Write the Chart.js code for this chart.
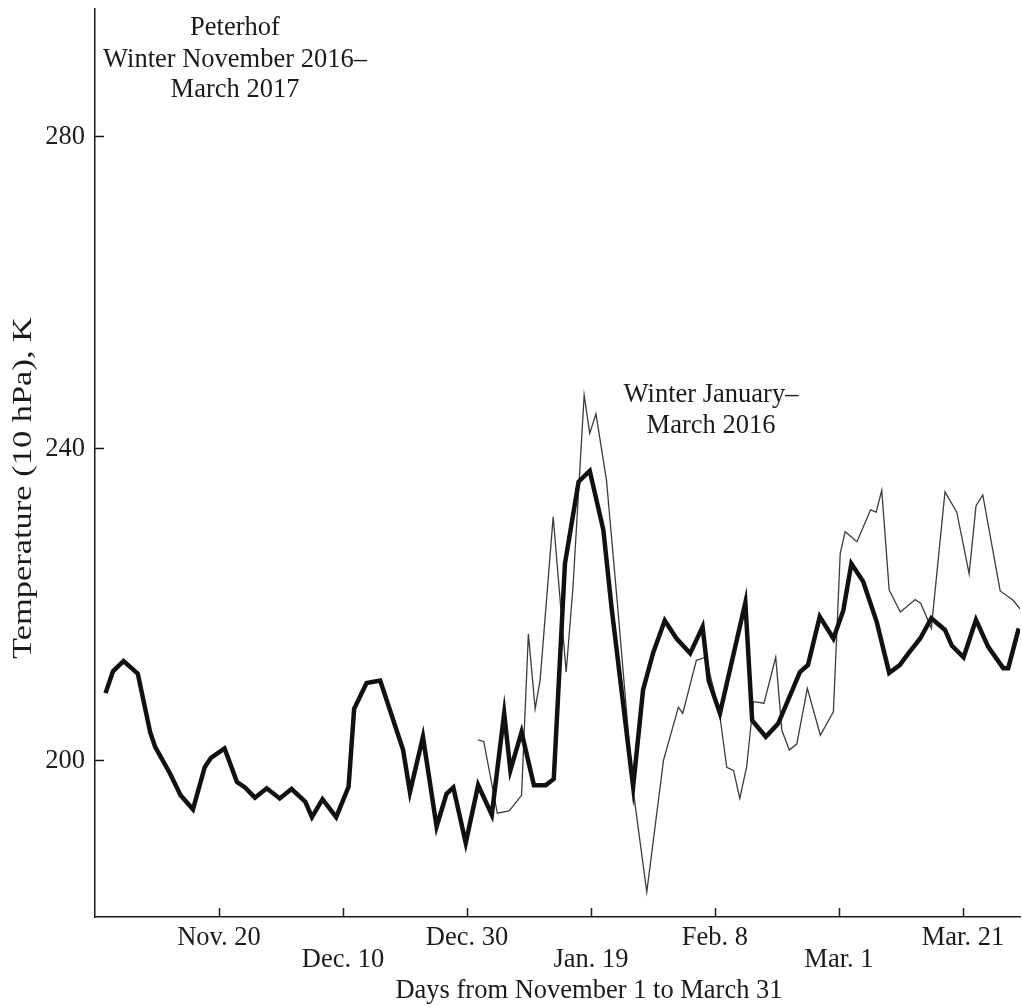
<!DOCTYPE html>
<html>
<head>
<meta charset="utf-8">
<title>Peterhof 10 hPa temperature</title>
<script src="https://cdn.jsdelivr.net/npm/chart.js@4.4.1/dist/chart.umd.min.js"></script>
<style>
  html, body { margin: 0; padding: 0; background: #fff; }
  #wrap { width: 1022px; height: 1007px; }
</style>
</head>
<body>
<div id="wrap"><canvas id="temp-chart" width="1022" height="1007"></canvas></div>
<script>
// day number counted from November 1 (x) and temperature in K (y)
var days2017 = [1.7, 2.9, 4.6, 6.9, 8.9, 9.7, 12.1, 13.8, 15.8, 17.7, 18.7, 20.9, 22.9, 24.2,
  25.8, 27.7, 29.8, 31.7, 33.9, 35.0, 36.7, 38.9, 40.9, 41.8, 43.8, 46.0, 49.7, 50.8, 52.9,
  55.1, 56.7, 57.8, 59.8, 61.8, 64.0, 66.0, 67.0, 68.8, 70.8, 72.7, 74.0, 75.8, 78.0, 79.8,
  82.0, 83.3, 86.8, 88.4, 90.0, 91.9, 93.8, 96.0, 98.0, 99.0, 100.8, 104.9, 106.0, 108.2,
  110.2, 113.7, 115.0, 116.9, 119.1, 120.7, 122.0, 123.9, 126.1, 128.1, 129.8, 131.2, 133.1,
  134.9, 137.1, 138.2, 140.1, 142.1, 144.1, 146.5, 147.3, 149.0];
var temp2017 = [208.6, 211.4, 212.7, 211.1, 203.6, 201.7, 198.3, 195.5, 193.7, 199.1, 200.3, 201.5, 197.2, 196.5,
  195.2, 196.4, 195.1, 196.3, 194.7, 192.7, 195.0, 192.7, 196.6, 206.6, 209.9, 210.2, 201.3, 195.9, 203.0,
  191.5, 195.7, 196.5, 189.4, 196.8, 193.0, 206.0, 198.7, 203.6, 196.8, 196.8, 197.6, 225.2, 235.7, 237.1,
  229.5, 219.7, 196.6, 209.0, 213.7, 217.9, 215.6, 213.7, 217.1, 210.2, 206.0, 220.2, 205.1, 203.0,
  204.7, 211.3, 212.2, 218.4, 215.6, 219.2, 225.2, 222.9, 217.7, 211.2, 212.2, 213.7, 215.6,
  218.2, 216.7, 214.7, 213.2, 218.0, 214.5, 211.8, 211.8, 216.9];

var days2016 = [61.8, 62.7, 64.9, 66.8, 68.8, 69.9, 71.0, 71.8, 73.9, 76.0, 77.1, 78.9, 79.8, 80.8,
  82.5, 84.4, 86.8, 89.0, 91.7, 94.1, 94.8, 97.0, 98.5, 99.7, 100.8, 101.9, 103.0, 104.0, 105.1,
  106.2, 107.9, 109.8, 110.8, 112.0, 113.2, 114.9, 117.0, 119.1, 120.2, 121.0, 122.9, 125.1,
  126.0, 126.9, 128.1, 129.9, 132.3, 133.2, 134.9, 137.1, 139.0, 141.0, 142.1, 143.2, 146.0,
  148.1, 149.2];
var temp2016 = [202.6, 202.4, 193.2, 193.5, 195.5, 216.2, 206.6, 210.3, 231.2, 211.3, 222.2, 246.8, 241.9, 244.4,
  235.9, 218.8, 196.2, 183.1, 200.0, 206.8, 206.0, 212.8, 213.2, 209.4, 205.6, 199.1, 198.7, 195.1, 199.1,
  207.5, 207.3, 213.2, 203.8, 201.3, 202.1, 209.2, 203.2, 206.2, 226.5, 229.3, 228.0, 232.1,
  231.8, 234.6, 221.8, 219.0, 220.6, 220.1, 216.9, 234.4, 231.8, 223.9, 232.6, 234.0, 221.7,
  220.5, 219.4];

var xTicks = [20, 40, 60, 80, 100, 120, 140];
var xTickLabels = ["Nov. 20", "Dec. 10", "Dec. 30", "Jan. 19", "Feb. 8", "Mar. 1", "Mar. 21"];
var yTicks = [200, 240, 280];

var FONT = "26.5px 'Liberation Serif', 'Times New Roman', serif";
var INK = "#1b1b1b";

function toPoints(xs, ys) {
  return xs.map(function (x, i) { return { x: x, y: ys[i] }; });
}

// stretch > 1 lengthens the text along its reading direction (used for the y title)
function drawText(ctx, text, x, y, align, rotated, stretch) {
  ctx.save();
  ctx.translate(x, y);
  if (rotated) ctx.rotate(-Math.PI / 2);
  if (stretch) ctx.scale(stretch, 1);
  ctx.font = FONT;
  ctx.fillStyle = INK;
  ctx.textAlign = align;
  ctx.textBaseline = "alphabetic";
  ctx.fillText(text, 0, 0);
  ctx.restore();
}

var axisDecor = {
  id: "axisDecor",
  afterDraw: function (chart) {
    var ctx = chart.ctx;
    var xs = chart.scales.x;
    var ys = chart.scales.y;
    var area = chart.chartArea;

    // inward tick marks
    ctx.save();
    ctx.strokeStyle = INK;
    ctx.lineWidth = 1.5;
    ctx.beginPath();
    xTicks.forEach(function (v) {
      var px = Math.round(xs.getPixelForValue(v)) + 0.5;
      ctx.moveTo(px, area.bottom);
      ctx.lineTo(px, area.bottom - 9);
    });
    yTicks.forEach(function (v) {
      var py = Math.round(ys.getPixelForValue(v)) + 0.5;
      ctx.moveTo(area.left, py);
      ctx.lineTo(area.left + 9, py);
    });
    ctx.stroke();
    ctx.restore();

    // tick labels, x labels on two alternating rows
    xTicks.forEach(function (v, i) {
      var row = i % 2 === 0 ? 945 : 967;
      drawText(ctx, xTickLabels[i], xs.getPixelForValue(v), row, "center");
    });
    yTicks.forEach(function (v) {
      drawText(ctx, String(v), area.left - 10, ys.getPixelForValue(v) + 8, "right");
    });

    // axis titles
    drawText(ctx, "Days from November 1 to March 31", 589, 998, "center");
    drawText(ctx, "Temperature (10 hPa), K", 31, 488, "center", true, 1.3);

    // series notes
    drawText(ctx, "Peterhof", 235, 35, "center");
    drawText(ctx, "Winter November 2016\u2013", 235, 67, "center");
    drawText(ctx, "March 2017", 235, 97, "center");
    drawText(ctx, "Winter January\u2013", 711, 402, "center");
    drawText(ctx, "March 2016", 711, 433, "center");
  }
};

function tempChart() {
  new Chart(document.getElementById("temp-chart"), {
    type: "line",
    data: {
      datasets: [
        {
          label: "Winter November 2016 - March 2017",
          data: toPoints(days2017, temp2017),
          borderColor: "#111111",
          borderWidth: 4.5,
          pointRadius: 0,
          tension: 0,
          order: 1,
        },
        {
          label: "Winter January - March 2016",
          data: toPoints(days2016, temp2016),
          borderColor: "#3c3c3c",
          borderWidth: 1.3,
          pointRadius: 0,
          tension: 0,
          order: 2,
        },
      ],
    },
    options: {
      responsive: false,
      animation: false,
      layout: {
        padding: { top: 9, right: 2, left: 0, bottom: 0 },
      },
      plugins: {
        legend: { display: false },
        tooltip: { enabled: false },
      },
      scales: {
        x: {
          type: "linear",
          min: 0,
          max: 149.2,
          grid: { display: false, drawTicks: false },
          border: { display: true, color: INK, width: 1.5 },
          ticks: { display: false },
          afterBuildTicks: function (scale) {
            scale.ticks = xTicks.map(function (v) { return { value: v }; });
          },
          afterFit: function (scale) { scale.height = 90; },
        },
        y: {
          type: "linear",
          min: 179.9,
          max: 296.3,
          grid: { display: false, drawTicks: false },
          border: { display: true, color: INK, width: 1.5 },
          ticks: { display: false },
          afterBuildTicks: function (scale) {
            scale.ticks = yTicks.map(function (v) { return { value: v }; });
          },
          afterFit: function (scale) { scale.width = 95; },
        },
      },
    },
    plugins: [axisDecor],
  });
}

document.addEventListener("DOMContentLoaded", function () {
  tempChart();
});
</script>
</body>
</html>
